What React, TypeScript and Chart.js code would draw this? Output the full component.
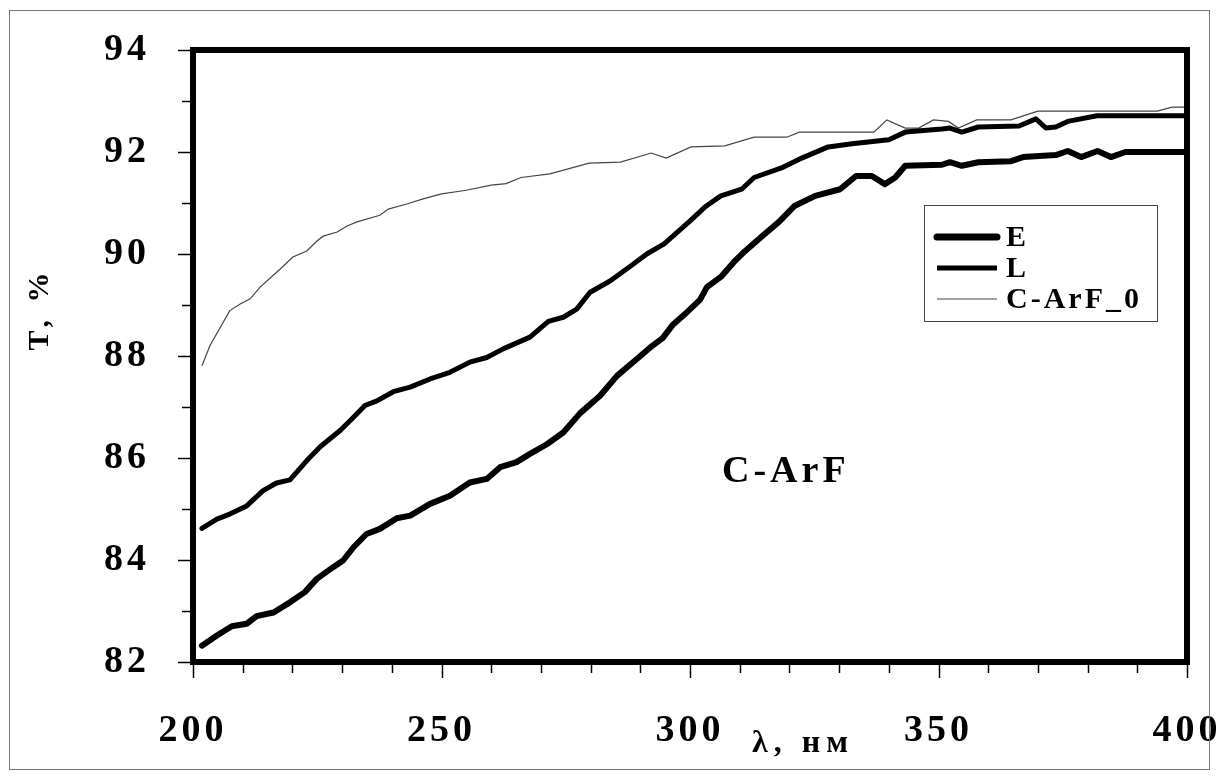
import React, { useEffect, useRef } from 'react';
import { Chart, registerables } from 'chart.js';

Chart.register(...registerables);

// ---- data ----
const SERIES_LABELS = ['E', 'L', 'C-ArF_0'];

const E_WL = [201.8, 204.8, 207.8, 210.8, 212.8, 216.2, 219.5, 222.5, 224.9, 228.2, 230.2, 232.3, 234.9, 237.6, 241, 243.7, 247.7, 251.7, 255.7, 259.1, 261.8, 265.1, 267.8, 271.2, 274.5, 277.9, 281.9, 285.3, 289.3, 292.4, 294.5, 296.6, 299.4, 302, 303.4, 306.2, 308.8, 311, 314.5, 317.9, 321, 325.2, 330.2, 333.4, 336.6, 339.2, 341.3, 343.3, 350.7, 352.3, 354.7, 358, 364.6, 367, 373.6, 376, 378.7, 382, 384.7, 387.6, 400];
const E_T = [82.32, 82.52, 82.7, 82.75, 82.9, 82.97, 83.17, 83.37, 83.63, 83.86, 83.99, 84.25, 84.51, 84.61, 84.82, 84.87, 85.1, 85.26, 85.52, 85.59, 85.82, 85.92, 86.08, 86.27, 86.5, 86.88, 87.22, 87.61, 87.94, 88.2, 88.35, 88.62, 88.86, 89.1, 89.35, 89.55, 89.84, 90.05, 90.35, 90.63, 90.94, 91.14, 91.27, 91.53, 91.53, 91.37, 91.5, 91.73, 91.75, 91.8, 91.73, 91.8, 91.82, 91.9, 91.94, 92.02, 91.9, 92.02, 91.9, 92.0, 92.0];

const L_WL = [201.8, 204.8, 207.4, 210.8, 214.1, 216.8, 219.5, 222.9, 225.6, 229.6, 232.3, 234.6, 237, 240.3, 243.7, 247.7, 251.7, 255.7, 259.1, 262.4, 267.8, 271.5, 274.5, 277.2, 279.9, 283.9, 288, 291.3, 294.8, 299.8, 303, 306.2, 310.4, 312.9, 318.7, 322, 327.8, 332.6, 340, 343.3, 350.7, 352.3, 354.7, 358, 366.2, 369.6, 371.6, 373.6, 376, 381.9, 400];
const L_T = [84.62, 84.8, 84.9, 85.06, 85.36, 85.51, 85.57, 85.95, 86.22, 86.54, 86.8, 87.03, 87.12, 87.3, 87.39, 87.55, 87.68, 87.88, 87.97, 88.14, 88.37, 88.68, 88.76, 88.92, 89.25, 89.47, 89.76, 90.0, 90.2, 90.63, 90.92, 91.14, 91.27, 91.5, 91.7, 91.86, 92.1, 92.16, 92.24, 92.39, 92.45, 92.47, 92.39, 92.49, 92.51, 92.65, 92.47, 92.49, 92.6, 92.71, 92.71];

const C0_WL = [201.8, 203.4, 207.4, 209.5, 211.5, 213.5, 217.5, 220.1, 222.9, 225, 226.2, 229, 231, 233, 237.6, 239.3, 243, 246.3, 250, 255, 260, 263, 266, 271.8, 279.7, 286, 292.2, 295.2, 300.2, 307, 312.9, 319.5, 322, 337, 339.6, 343.3, 346, 349, 352, 354, 357.7, 364.6, 370, 394, 397, 400];
const C0_T = [87.81, 88.2, 88.89, 89.02, 89.12, 89.35, 89.7, 89.94, 90.06, 90.26, 90.35, 90.43, 90.55, 90.63, 90.76, 90.88, 90.98, 91.08, 91.18, 91.25, 91.35, 91.38, 91.5, 91.57, 91.78, 91.8, 91.98, 91.88, 92.1, 92.12, 92.29, 92.29, 92.39, 92.39, 92.63, 92.47, 92.47, 92.63, 92.6, 92.47, 92.63, 92.63, 92.8, 92.8, 92.88, 92.88];

const X_MIN = 200, X_MAX = 400, X_STEP = 50, X_MINOR = 10;
const Y_MIN = 82, Y_MAX = 94, Y_STEP = 2, Y_MINOR = 1;

const X_TITLE = 'λ, нм';
const Y_TITLE = 'T, %';
const ANNOTATION = 'C-ArF';

const SERIF = '"Liberation Serif", "Times New Roman", serif';

const toPts = (xs: number[], ys: number[]) => xs.map((x, i) => ({ x, y: ys[i] }));

const LEGEND_WIDTHS = [7, 5, 1];

const zeroPad = (s: any) => {
  s.paddingLeft = 0;
  s.paddingRight = 0;
  s.paddingTop = 0;
  s.paddingBottom = 0;
};

const decor = {
  id: 'decor',
  beforeLayout(chart: any) {
    chart.ctx.letterSpacing = '4px';
  },
  beforeDraw(chart: any) {
    const ctx = chart.ctx;
    ctx.save();
    ctx.fillStyle = '#fff';
    ctx.fillRect(0, 0, chart.width, chart.height);
    ctx.restore();
    ctx.letterSpacing = '4px';
  },
  afterDraw(chart: any) {
    const ctx = chart.ctx;
    const a = chart.chartArea;
    const x = chart.scales.x;
    const y = chart.scales.y;
    ctx.save();
    ctx.letterSpacing = '0px';
    // outer frame
    ctx.strokeStyle = '#777';
    ctx.lineWidth = 1;
    ctx.strokeRect(9.5, 10.5, 1200, 759);

    // ticks
    ctx.strokeStyle = '#000';
    ctx.lineWidth = 1.5;
    ctx.lineCap = 'butt';
    for (let v = Y_MIN; v <= Y_MAX + 1e-9; v += Y_MINOR) {
      const py = Math.round(y.getPixelForValue(v)) + 0.5;
      const len = Math.abs(v % Y_STEP) < 1e-9 ? 15 : 11;
      ctx.beginPath();
      ctx.moveTo(a.left - len, py);
      ctx.lineTo(a.left, py);
      ctx.stroke();
    }
    for (let v = X_MIN; v <= X_MAX + 1e-9; v += X_MINOR) {
      const px = Math.round(x.getPixelForValue(v)) + 0.5;
      const len = Math.abs(v % X_STEP) < 1e-9 ? 16 : 11;
      ctx.beginPath();
      ctx.moveTo(px, a.bottom);
      ctx.lineTo(px, a.bottom + len);
      ctx.stroke();
    }

    // plot frame
    ctx.lineWidth = 6;
    ctx.strokeRect(a.left, a.top, a.right - a.left, a.bottom - a.top);

    // legend
    ctx.lineWidth = 1;
    ctx.strokeStyle = '#444';
    ctx.strokeRect(924.5, 205.5, 233, 116);
    chart.data.datasets.forEach((ds: any, i: number) => {
      const ly = 237 + 31 * i;
      ctx.beginPath();
      ctx.lineWidth = LEGEND_WIDTHS[i];
      ctx.lineCap = i === 0 ? 'round' : 'butt';
      ctx.strokeStyle = ds.borderColor;
      ctx.moveTo(937, ly);
      ctx.lineTo(997, ly);
      ctx.stroke();
      ctx.fillStyle = '#000';
      ctx.font = `bold 30px ${SERIF}`;
      ctx.letterSpacing = '3px';
      ctx.textAlign = 'left';
      ctx.textBaseline = 'middle';
      ctx.fillText(ds.label, 1006, ly + 1);
    });

    // axis titles
    ctx.fillStyle = '#000';
    ctx.save();
    ctx.translate(40, 309);
    ctx.rotate(-Math.PI / 2);
    ctx.font = `bold 30px ${SERIF}`;
    ctx.letterSpacing = '5px';
    ctx.textAlign = 'center';
    ctx.textBaseline = 'middle';
    ctx.fillText(Y_TITLE, 0, 0);
    ctx.restore();

    ctx.font = `bold 32px ${SERIF}`;
    ctx.letterSpacing = '6px';
    ctx.textAlign = 'left';
    ctx.textBaseline = 'alphabetic';
    ctx.fillText(X_TITLE, 752, 752);

    // annotation
    ctx.font = `bold 38px ${SERIF}`;
    ctx.letterSpacing = '4px';
    ctx.fillText(ANNOTATION, 722, 482);
    ctx.restore();
  },
};

export default function App() {
  const ref = useRef<HTMLCanvasElement | null>(null);
  useEffect(() => {
    if (!ref.current) return;
    const tickFont = { family: SERIF, size: 38, weight: 'bold' as const };
    const chart = new Chart(ref.current, {
      type: 'line',
      data: {
        datasets: [
          { label: SERIES_LABELS[0], data: toPts(E_WL, E_T), borderColor: '#000', borderWidth: 6, pointRadius: 0, borderJoinStyle: 'round', borderCapStyle: 'round', fill: false },
          { label: SERIES_LABELS[1], data: toPts(L_WL, L_T), borderColor: '#000', borderWidth: 5, pointRadius: 0, borderJoinStyle: 'round', borderCapStyle: 'round', fill: false },
          { label: SERIES_LABELS[2], data: toPts(C0_WL, C0_T), borderColor: '#444', borderWidth: 1.2, pointRadius: 0, fill: false },
        ],
      },
      options: {
        responsive: false,
        animation: false,
        devicePixelRatio: 1,
        layout: { padding: { left: 0, top: 50, right: 31, bottom: 0 } },
        plugins: { legend: { display: false }, tooltip: { enabled: false } },
        elements: { line: { tension: 0 } },
        scales: {
          x: {
            type: 'linear',
            min: X_MIN,
            max: X_MAX,
            ticks: { stepSize: X_STEP, font: tickFont, color: '#000', padding: 46, maxRotation: 0, autoSkip: false },
            grid: { display: false, drawTicks: false },
            border: { display: false },
            afterFit: (s: any) => { s.height = 116; zeroPad(s); },
          },
          y: {
            type: 'linear',
            min: Y_MIN,
            max: Y_MAX,
            ticks: { stepSize: Y_STEP, font: tickFont, color: '#000', padding: 43 },
            grid: { display: false, drawTicks: false },
            border: { display: false },
            afterFit: (s: any) => { s.width = 193; zeroPad(s); },
          },
        },
      },
      plugins: [decor],
    } as any);
    return () => chart.destroy();
  }, []);
  return (
    <div style={{ position: 'fixed', left: 0, top: 0, width: 1218, height: 778, background: '#fff' }}>
      <canvas ref={ref} width={1218} height={778} style={{ display: 'block' }} />
    </div>
  );
}
